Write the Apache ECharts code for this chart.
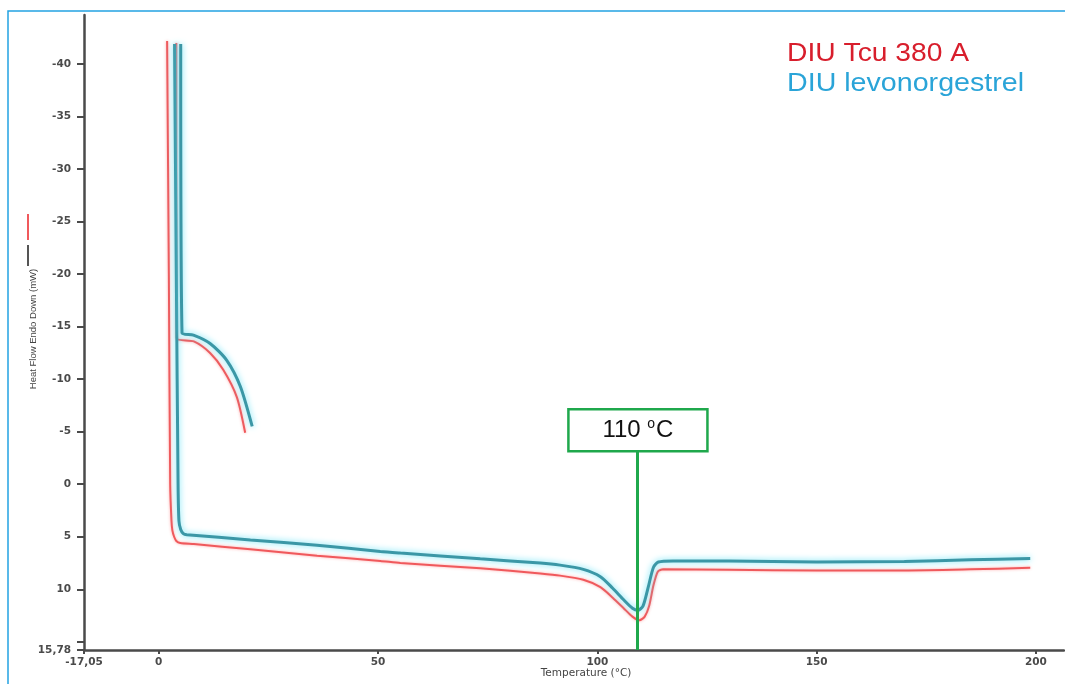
<!DOCTYPE html>
<html>
<head>
<meta charset="utf-8">
<script src="https://cdn.jsdelivr.net/npm/echarts@6.0.0/dist/echarts.min.js"></script>
<style>
html,body{margin:0;padding:0;background:#fff;}
#chart{width:1065px;height:684px;}
</style>
</head>
<body>
<div id="chart"></div>
<script>
// ---- data ----
const seriesNames = ['DIU Tcu 380 A', 'DIU levonorgestrel'];

const redMainT  = [1.9, 2.3, 2.6, 2.9, 3.1, 3.5, 4.0, 4.9, 8.0, 20.9, 36.1, 50.5, 55.1, 73.3, 87.0, 91.5, 96.8, 100.7, 103.5, 106.0, 108.0, 109.6, 110.8, 111.8, 112.8, 113.8, 115.0, 130, 150, 170, 185, 198.7];
const redMainHF = [-42.2, -20, 0, 3.5, 4.4, 5.0, 5.4, 5.6, 5.7, 6.2, 6.8, 7.3, 7.5, 8.0, 8.5, 8.7, 9.1, 9.8, 10.8, 11.8, 12.6, 12.95, 12.6, 11.6, 9.6, 8.3, 8.1, 8.15, 8.2, 8.2, 8.1, 7.96];

const redBranchT  = [4.0, 4.1, 8.0, 11.7, 14.7, 17.8, 19.7];
const redBranchHF = [-42.0, -13.9, -13.6, -12.5, -10.9, -8.3, -4.9];

const tealMainT  = [3.6, 4.0, 4.4, 4.6, 5.0, 5.6, 6.4, 20.9, 36.1, 50.5, 55.1, 73.3, 87.0, 91.5, 96.8, 100.7, 103.5, 106.0, 108.0, 109.2, 110.4, 111.6, 112.8, 113.9, 117.3, 130, 150, 170, 185, 198.7];
const tealMainHF = [-41.9, -20, 0, 3.5, 4.3, 4.7, 4.8, 5.3, 5.8, 6.4, 6.55, 7.1, 7.5, 7.7, 8.1, 8.8, 9.9, 11.0, 11.8, 12.0, 11.6, 9.8, 7.9, 7.4, 7.3, 7.3, 7.4, 7.35, 7.2, 7.08];

const tealBranchT  = [5.0, 5.3, 7.9, 11.7, 15.5, 18.6, 21.3];
const tealBranchHF = [-41.9, -14.4, -14.2, -13.4, -11.8, -9.3, -5.5];

// annotation
const annotT = 109.1;
const annotLabel = '110';
const annotBoxT = [93.4, 125.1];
const annotBoxHF = [-7.14, -3.14];

// axes
const xMin = -17.05, xMax = 206.4;
const yMin = -44.67, yMax = 15.78;
const xTicks = [-17.05, 0, 50, 100, 150, 200];
const xLabels = [-17.05, 0, 50, 100, 150, 200];
const yTicks = [-40, -35, -30, -25, -20, -15, -10, -5, 0, 5, 10, 15, 15.78];
const yLabels = [-40, -35, -30, -25, -20, -15, -10, -5, 0, 5, 10, 15.78];

function pairs(xs, ys){ return xs.map((x,i)=>[x, ys[i]]); }
function fmt(v){
  const r = Math.round(v*100)/100;
  return Number.isInteger(r) ? String(r) : r.toFixed(2).replace('.', ',');
}

const chart = echarts.init(document.getElementById('chart'), null, {renderer:'canvas'});

const redStyle = {color:'#f0595c', width:2, shadowColor:'rgba(255,160,160,0.9)', shadowBlur:3};
const tealStyle = {color:'#3b97a6', width:3, shadowColor:'rgba(100,225,245,1)', shadowBlur:6};
const axisCol = '#4a4a4a';
const lblStyle = {color:'#4a4a4a', fontSize:10.5, fontWeight:'bold', fontFamily:'DejaVu Sans'};

const option = {
  animation:false,
  backgroundColor:'#fff',
  grid:{left:84, right:1, top:15, bottom:34},
  xAxis:{
    type:'value', min:xMin, max:xMax,
    axisLine:{show:true, onZero:false, lineStyle:{color:axisCol, width:2.5}},
    axisTick:{show:true, customValues:xTicks, length:4, lineStyle:{color:axisCol, width:2}},
    axisLabel:Object.assign({customValues:xLabels, margin:7, formatter:fmt, showMinLabel:true}, lblStyle),
    splitLine:{show:false}
  },
  yAxis:{
    type:'value', inverse:true, min:yMin, max:yMax,
    axisLine:{show:true, onZero:false, lineStyle:{color:axisCol, width:2.5}},
    axisTick:{show:true, customValues:yTicks, length:7, lineStyle:{color:axisCol, width:2}},
    axisLabel:Object.assign({customValues:yLabels, margin:13, formatter:fmt}, lblStyle),
    splitLine:{show:false}
  },
  series:[
    {name:seriesNames[0], type:'line', data:pairs(redMainT, redMainHF), showSymbol:false, smooth:0.25, lineStyle:redStyle, z:2},
    {name:seriesNames[0], type:'line', data:pairs(redBranchT, redBranchHF), showSymbol:false, smooth:0.25, lineStyle:redStyle, z:2},
    {name:seriesNames[1], type:'line', data:pairs(tealMainT, tealMainHF), showSymbol:false, smooth:0.25, lineStyle:tealStyle, z:3},
    {name:seriesNames[1], type:'line', data:pairs(tealBranchT, tealBranchHF), showSymbol:false, smooth:0.25, lineStyle:tealStyle, z:3},
    {
      type:'line', data:[], z:4,
      markLine:{
        silent:true, symbol:['none','none'],
        lineStyle:{color:'#1fa84c', width:3, type:'solid'},
        label:{show:false},
        data:[[{coord:[annotT, annotBoxHF[1]]},{coord:[annotT, yMax]}]]
      },
      markArea:{
        silent:true,
        itemStyle:{color:'#ffffff', borderColor:'#1fa84c', borderWidth:2.5, opacity:1},
        label:{
          show:true, position:'inside',
          formatter:'{a|' + annotLabel + ' }{s|o}{a|C}',
          rich:{
            a:{fontSize:24, fontFamily:'Liberation Sans', color:'#111', lineHeight:28},
            s:{fontSize:14, fontFamily:'Liberation Sans', color:'#111', lineHeight:28, padding:[0,1,12,0]}
          }
        },
        data:[[{coord:[annotBoxT[0], annotBoxHF[0]]},{coord:[annotBoxT[1], annotBoxHF[1]]}]]
      }
    }
  ],
  graphic:[
    {type:'rect', shape:{x:8, y:11, width:1100, height:700}, style:{fill:'none', stroke:'#23a3e2', lineWidth:1.5}, z:-10},
    {type:'text', x:787, y:54, scaleX:1.13, style:{text:seriesNames[0], fill:'#d81e2c', font:'25px "Liberation Sans"', verticalAlign:'middle'}},
    {type:'text', x:787, y:84, scaleX:1.145, style:{text:seriesNames[1], fill:'#2aa4d8', font:'25px "Liberation Sans"', verticalAlign:'middle'}},
    {type:'text', x:33, y:329, rotation:Math.PI/2, style:{text:'Heat Flow Endo Down (mW)', fill:'#444', font:'9.5px "Liberation Sans"', align:'center', verticalAlign:'middle'}},
    {type:'line', shape:{x1:28, y1:214, x2:28, y2:240}, style:{stroke:'#f0595c', lineWidth:2}},
    {type:'line', shape:{x1:28, y1:245, x2:28, y2:266}, style:{stroke:'#555', lineWidth:2}},
    {type:'text', x:586, y:673, style:{text:'Temperature (°C)', fill:'#444', font:'10.5px "DejaVu Sans"', align:'center', verticalAlign:'middle'}}
  ]
};
chart.setOption(option);
</script>
</body>
</html>
